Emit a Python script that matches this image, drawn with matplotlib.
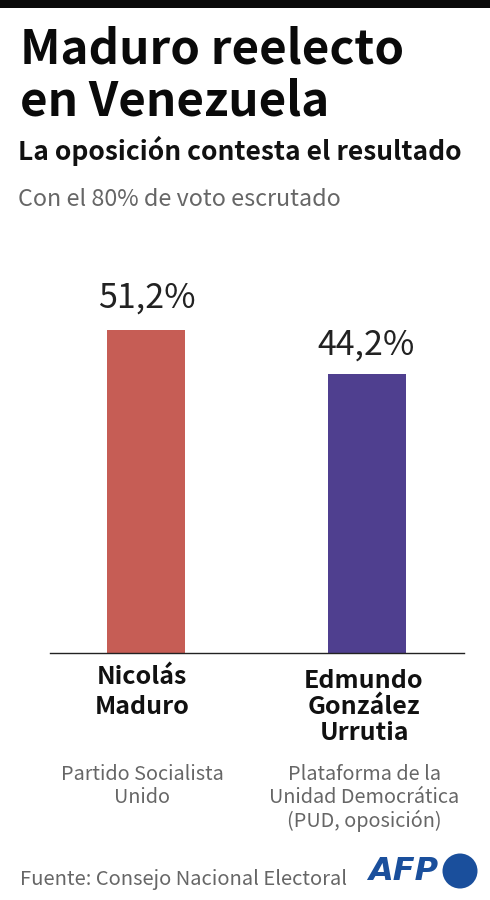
import matplotlib
matplotlib.use("Agg")
import matplotlib.pyplot as plt
from matplotlib.patches import Circle

plt.rcParams['font.family'] = ['Noto Sans CJK SC', 'DejaVu Sans']

candidates = ["Nicolás\nMaduro", "Edmundo\nGonzález\nUrrutia"]
parties = ["Partido Socialista\nUnido", "Plataforma de la\nUnidad Democrática\n(PUD, oposición)"]
votes = [51.2, 44.2]
vote_labels = ["51,2%", "44,2%"]
bar_colors = ["#c65d55", "#4f3f8f"]

W, H = 490, 900
fig = plt.figure(figsize=(W / 100, H / 100), dpi=100)

# overlay in pixel coordinates for the text
bg = fig.add_axes([0, 0, 1, 1])
bg.set_xlim(0, W)
bg.set_ylim(H, 0)
bg.axis("off")

bg.fill_between([0, 490], 0, 8, color="#0a0a0a", lw=0)
bg.text(20, 49, "Maduro reelecto", fontsize=34.2, fontweight="bold", va="center", color="#0a0a0a")
bg.text(20, 102, "en Venezuela", fontsize=34.2, fontweight="bold", va="center", color="#0a0a0a")
bg.text(18, 151, "La oposición contesta el resultado", fontsize=19, fontweight="bold", va="center", color="#111111")
bg.text(18, 199, "Con el 80% de voto escrutado", fontsize=16.75, va="center", color="#666666")

# bars: y scale fixed so 51.2 reaches y=330 from the baseline at y=653
ax = fig.add_axes([50 / W, 1 - 653 / H, 414 / W, 323 / H])
ax.bar([0, 1], votes, width=0.353, color=bar_colors)
ax.set_xlim(-0.434, 1.439)
ax.set_ylim(0, 51.2)
for s in ["top", "left", "right"]:
    ax.spines[s].set_visible(False)
ax.spines["bottom"].set_linewidth(1)
ax.spines["bottom"].set_color("#222222")
ax.set_xticks([])
ax.set_yticks([])
ax.patch.set_alpha(0)
label_offsets = [(0.7, 10.5), (-1, 8.3)]
for i, (v, lab) in enumerate(zip(votes, vote_labels)):
    ax.annotate(lab, (i, v), xytext=label_offsets[i], textcoords="offset points", ha="center", va="bottom",
                fontsize=24.5, color="#222222", annotation_clip=False)

xs = [142, 364]
for x, name, party, y1, y2, sp in zip(xs, candidates, parties, [692, 707], [786, 798], [1.3, 1.1]):
    bg.text(x, y1, name, fontsize=18, fontweight="bold", ha="center", va="center", color="#111111", linespacing=sp)
    bg.text(x, y2, party, fontsize=14.3, ha="center", va="center", color="#666666", linespacing=1.12)

bg.text(20, 879.5, "Fuente: Consejo Nacional Electoral", fontsize=14.5, va="center", color="#666666")
bg.text(368, 871.5, "AFP", fontsize=23, fontweight="bold", style="italic", family="DejaVu Sans",
        va="center", color="#1a4f9c")
bg.add_patch(Circle((460, 871), 17.5, color="#1a4f9c", lw=0))

fig.savefig("out.png", dpi=100)
